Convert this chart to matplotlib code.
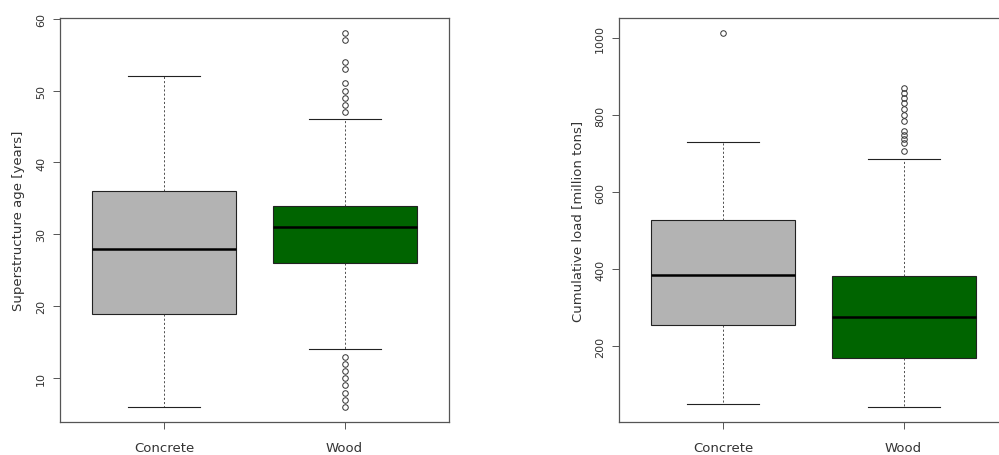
import matplotlib
matplotlib.use("Agg")
import matplotlib.pyplot as plt

categories = ["Concrete", "Wood"]
box_colors = ["#b3b3b3", "#006400"]

# Left panel: superstructure age [years]
age_whislo = [6, 14]
age_q1 = [19, 26]
age_med = [28, 31]
age_q3 = [36, 34]
age_whishi = [52, 46]
age_fliers = [[], [58, 57, 54, 53, 51, 50, 49, 48, 47, 13, 12, 11, 10, 9, 8, 7, 6]]
age_ticks = [10, 20, 30, 40, 50, 60]

# Right panel: cumulative load [million tons]
load_whislo = [49, 42]
load_q1 = [256, 168]
load_med = [384, 275]
load_q3 = [527, 382]
load_whishi = [729, 687]
load_fliers = [[1012], [706, 728, 738, 748, 758, 784, 800, 816, 830, 844, 856, 869]]
load_ticks = [200, 400, 600, 800, 1000]

plt.rcParams['font.family'] = ['DejaVu Sans']

fig = plt.figure(figsize=(9.99, 4.56), dpi=100)
ax1 = fig.add_axes([60/999, 1-423/456, 389/999, 404/456])
ax2 = fig.add_axes([619/999, 1-423/456, 389/999, 404/456])


def draw(ax, whislo, q1, med, q3, whishi, fliers, ticks, ylabel, ylim):
    stats = []
    for i, c in enumerate(categories):
        stats.append(dict(label=c, whislo=whislo[i], q1=q1[i], med=med[i],
                          q3=q3[i], whishi=whishi[i], fliers=fliers[i]))
    bp = ax.bxp(stats, positions=[1, 2], widths=0.8, patch_artist=True,
                showfliers=True,
                boxprops=dict(edgecolor="#222222", linewidth=0.8),
                medianprops=dict(color="black", linewidth=1.8),
                whiskerprops=dict(color="#333333", linewidth=0.6, linestyle=(0, (2.5, 2.5))),
                capprops=dict(color="#222222", linewidth=0.8),
                flierprops=dict(marker="o", markersize=4.0, markerfacecolor="none",
                                markeredgecolor="#333333", markeredgewidth=0.7,
                                linestyle="none"))
    for cap in bp["caps"]:
        x0, x1 = cap.get_xdata()
        xc = (x0 + x1) / 2
        cap.set_xdata([xc - 0.2, xc + 0.2])
    for p, col in zip(bp["boxes"], box_colors):
        p.set_facecolor(col)
    ax.set_xlim(0.42, 2.58)
    ax.set_ylim(*ylim)
    ax.set_yticks(ticks)
    ax.set_yticklabels([str(t) for t in ticks], rotation=90, va="center",
                       fontsize=8, color="#333333")
    ax.set_xticks([1, 2])
    ax.set_xticklabels(categories, fontsize=9.5, color="#222222")
    ax.tick_params(axis="both", direction="out", length=5, width=0.7,
                   colors="#555555", labelcolor="#333333")
    ax.tick_params(axis="y", pad=5)
    ax.tick_params(axis="x", pad=9)
    for s in ax.spines.values():
        s.set_color("#555555")
        s.set_linewidth(0.9)
    ax.set_ylabel(ylabel, fontsize=9.5, color="#333333", labelpad=8)


draw(ax1, age_whislo, age_q1, age_med, age_q3, age_whishi, age_fliers,
     age_ticks, "Superstructure age [years]", (3.92, 60.08))
draw(ax2, load_whislo, load_q1, load_med, load_q3, load_whishi, load_fliers,
     load_ticks, "Cumulative load [million tons]", (3, 1052))

fig.savefig("out.png", dpi=100)
